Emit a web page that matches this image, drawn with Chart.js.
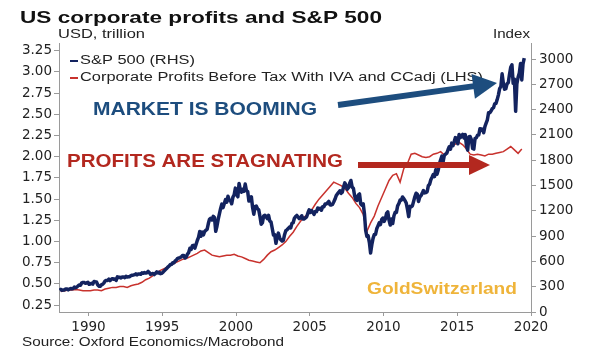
<!DOCTYPE html>
<html>
<head>
<meta charset="utf-8">
<script src="https://cdn.jsdelivr.net/npm/chart.js@4"></script>
<style>
  body { margin: 0; background: #fff; }
</style>
</head>
<body>
<canvas id="chart" width="595" height="353"></canvas>
<script>
// S&P 500 month-end level, Jan 1988 .. Jul 2019 (RHS)
const spxStart = 1988;
const spx = [
  257, 268, 259, 261, 262, 274, 272, 262, 272, 279, 274, 278,
  297, 289, 295, 310, 321, 318, 346, 351, 349, 340, 346, 353,
  329, 332, 340, 331, 361, 358, 356, 323, 306, 304, 322, 330,
  344, 367, 375, 375, 390, 371, 388, 395, 388, 392, 375, 417,
  409, 413, 404, 415, 415, 408, 424, 414, 418, 419, 431, 436,
  439, 443, 452, 440, 450, 451, 448, 464, 459, 468, 462, 466,
  482, 467, 446, 451, 457, 444, 458, 475, 463, 472, 454, 459,
  470, 487, 501, 515, 533, 545, 562, 562, 584, 582, 605, 616,
  636, 640, 646, 654, 669, 671, 640, 652, 687, 705, 757, 741,
  786, 791, 757, 801, 848, 885, 954, 899, 947, 915, 955, 970,
  980, 1049, 1102, 1112, 1091, 1134, 1121, 957, 1017, 1099, 1164, 1229,
  1280, 1238, 1286, 1335, 1302, 1373, 1329, 1320, 1283, 1363, 1389, 1469,
  1394, 1366, 1525, 1452, 1421, 1455, 1431, 1518, 1437, 1429, 1315, 1320,
  1366, 1240, 1160, 1249, 1256, 1224, 1211, 1134, 1041, 1060, 1139, 1148,
  1130, 1107, 1147, 1077, 1067, 990, 912, 916, 815, 886, 936, 880,
  856, 841, 848, 917, 964, 975, 990, 1008, 996, 1051, 1058, 1112,
  1131, 1145, 1126, 1107, 1121, 1141, 1102, 1104, 1115, 1130, 1174, 1212,
  1181, 1204, 1181, 1157, 1192, 1191, 1234, 1220, 1229, 1207, 1249, 1248,
  1280, 1281, 1295, 1311, 1270, 1270, 1277, 1304, 1336, 1378, 1401, 1418,
  1438, 1407, 1421, 1482, 1531, 1503, 1455, 1474, 1527, 1560, 1481, 1468,
  1379, 1331, 1323, 1386, 1400, 1280, 1267, 1283, 1166, 969, 896, 903,
  826, 700, 798, 873, 919, 919, 987, 1021, 1057, 1036, 1096, 1115,
  1074, 1104, 1169, 1187, 1089, 1031, 1102, 1049, 1141, 1183, 1181, 1258,
  1286, 1327, 1326, 1364, 1345, 1321, 1292, 1219, 1131, 1253, 1247, 1258,
  1312, 1366, 1408, 1398, 1310, 1362, 1379, 1407, 1441, 1412, 1416, 1426,
  1498, 1515, 1569, 1598, 1631, 1606, 1686, 1633, 1682, 1757, 1806, 1848,
  1783, 1859, 1872, 1884, 1924, 1960, 1931, 2003, 1972, 2018, 2068, 2059,
  1995, 2105, 2068, 2086, 2107, 2063, 2104, 1972, 1920, 2079, 2080, 2044,
  1940, 1932, 2060, 2065, 2097, 2099, 2174, 2171, 2168, 2126, 2199, 2239,
  2279, 2364, 2363, 2384, 2412, 2423, 2470, 2472, 2519, 2575, 2648, 2674,
  2824, 2714, 2641, 2648, 2705, 2718, 2816, 2902, 2930, 2712, 2760, 2380,
  2704, 2784, 2834, 2946, 2752, 2942, 3010
];

// Corporate profits before tax with IVA and CCadj, USD trillion, quarterly 1988Q1 .. 2019Q2 (LHS)
const profitStart = 1988;
const profits = [
  0.41, 0.42, 0.43, 0.43,
  0.435, 0.43, 0.42, 0.42,
  0.42, 0.43, 0.43, 0.42,
  0.44, 0.45, 0.46, 0.46,
  0.47, 0.47, 0.46, 0.48,
  0.49, 0.50, 0.52, 0.55,
  0.57, 0.60, 0.63, 0.66,
  0.68, 0.70, 0.73, 0.75,
  0.77, 0.79, 0.80, 0.82,
  0.84, 0.86, 0.89, 0.90,
  0.87, 0.84, 0.83, 0.82,
  0.83, 0.84, 0.84, 0.85,
  0.83, 0.82, 0.80, 0.78,
  0.77, 0.76, 0.75, 0.79,
  0.84, 0.88, 0.90, 0.93,
  0.96, 1.00, 1.06, 1.11,
  1.18, 1.24, 1.29, 1.32,
  1.37, 1.44, 1.50, 1.55,
  1.60, 1.65, 1.70, 1.68,
  1.66, 1.63, 1.57, 1.52,
  1.45, 1.40, 1.32, 1.12,
  1.22, 1.30, 1.42, 1.52,
  1.62, 1.72, 1.78, 1.80,
  1.70, 1.86, 1.92, 2.03,
  2.04, 2.02, 2.00, 1.99,
  2.00, 2.03, 2.04, 2.06,
  2.02, 2.08, 2.13, 2.15,
  2.17, 2.14, 2.09, 2.03,
  2.02, 2.03, 2.02, 2.01,
  2.03, 2.03, 2.04, 2.05,
  2.06, 2.09, 2.12, 2.08,
  2.04, 2.09
];

const xTicks = [1990, 1995, 2000, 2005, 2010, 2015, 2020];
const lhsTicks = [0.25, 0.5, 0.75, 1.0, 1.25, 1.5, 1.75, 2.0, 2.25, 2.5, 2.75, 3.0, 3.25];
const rhsTicks = [0, 300, 600, 900, 1200, 1500, 1800, 2100, 2400, 2700, 3000];

const spxLabel = "S&P 500 (RHS)";
const profitLabel = "Corporate Profits Before Tax With IVA and CCadj (LHS)";

const navy = "#13235f";
const red = "#c8322d";
const axisGrey = "#9a9a9a";
const tickFont = { family: "DejaVu Sans", size: 13.5 };

// text drawn with horizontal stretch to match the reference's wide lettering
function drawText(ctx, s, x, y, size, bold, color, width, align) {
  ctx.save();
  ctx.font = (bold ? "bold " : "") + size + 'px "Liberation Sans", Arial, sans-serif';
  ctx.fillStyle = color;
  ctx.textBaseline = "middle";
  ctx.textAlign = align || "left";
  const sx = width ? width / ctx.measureText(s).width : 1;
  ctx.translate(x, y);
  ctx.scale(sx, 1);
  ctx.fillText(s, 0, 0);
  ctx.restore();
}

function drawArrow(ctx, x1, y1, x2, y2, color, shaftW, headL, headW) {
  const ang = Math.atan2(y2 - y1, x2 - x1);
  const len = Math.hypot(x2 - x1, y2 - y1);
  ctx.save();
  ctx.translate(x1, y1);
  ctx.rotate(ang);
  ctx.fillStyle = color;
  ctx.fillRect(0, -shaftW / 2, len - headL + 1, shaftW);
  ctx.beginPath();
  ctx.moveTo(len, 0);
  ctx.lineTo(len - headL, -headW);
  ctx.lineTo(len - headL, headW);
  ctx.closePath();
  ctx.fill();
  ctx.restore();
}

const decorations = {
  id: "decorations",
  afterDraw(chart) {
    const ctx = chart.ctx;
    drawText(ctx, "US corporate profits and S&P 500", 20, 18, 17, true, "#111", 362);
    drawText(ctx, "USD, trillion", 58, 35, 12.5, false, "#222", 87);
    drawText(ctx, "Index", 530, 35, 12.5, false, "#222", 37, "right");

    // legend inside the plot
    const ds = chart.data.datasets;
    const rows = [[ds[0], 61, 115], [ds[1], 78, 403]];
    rows.forEach(([d, y, w]) => {
      ctx.fillStyle = d.borderColor;
      ctx.fillRect(70, y - 1, 8, 2);
      drawText(ctx, d.label, 80, y, 12.5, false, "#222", w);
    });

    drawText(ctx, "MARKET IS BOOMING", 93, 110, 18, true, "#1d4d7e", 224);
    drawArrow(ctx, 338, 105, 497, 83, "#1d4d7e", 6, 24, 12.5);
    drawText(ctx, "PROFITS ARE STAGNATING", 67, 162, 18, true, "#b3281f", 276);
    drawArrow(ctx, 358, 165, 490, 165, "#b3281f", 6, 21, 10);
    drawText(ctx, "GoldSwitzerland", 367, 290, 16, true, "#efb43a", 150);
    drawText(ctx, "Source: Oxford Economics/Macrobond", 22, 343, 12.5, false, "#222", 262);
  }
};

const spxPoints = spx.map((v, i) => ({ x: spxStart + (i + 0.5) / 12, y: v }));
const profitPoints = profits.map((v, i) => ({ x: profitStart + (i + 0.5) / 4, y: v }));

new Chart(document.getElementById("chart"), {
  type: "line",
  data: {
    datasets: [
      {
        label: spxLabel,
        data: spxPoints,
        yAxisID: "y2",
        borderColor: navy,
        borderWidth: 3.5,
        pointRadius: 0,
        borderJoinStyle: "round",
      },
      {
        label: profitLabel,
        data: profitPoints,
        yAxisID: "y",
        borderColor: red,
        borderWidth: 1.5,
        pointRadius: 0,
      },
    ],
  },
  options: {
    responsive: false,
    animation: false,
    layout: { padding: { top: 43, left: 0, right: 0, bottom: 0 } },
    plugins: {
      legend: { display: false },
      tooltip: { enabled: false },
    },
    scales: {
      x: {
        type: "linear",
        min: 1988,
        max: 2020,
        afterBuildTicks: (scale) => { scale.ticks = xTicks.map((v) => ({ value: v })); },
        afterFit: (scale) => { scale.height = 41; },
        grid: { drawOnChartArea: false, tickLength: 4, color: axisGrey },
        border: { color: axisGrey },
        ticks: {
          font: tickFont,
          color: "#222",
          padding: 3,
          maxRotation: 0,
          callback: (v) => String(v),
        },
      },
      y: {
        position: "left",
        min: 0.17,
        max: 3.34,
        afterBuildTicks: (scale) => { scale.ticks = lhsTicks.map((v) => ({ value: v })); },
        afterFit: (scale) => { scale.width = 59; },
        grid: { drawOnChartArea: false, tickLength: 5, color: axisGrey },
        border: { color: axisGrey },
        ticks: {
          font: tickFont,
          color: "#222",
          padding: 2,
          callback: (v) => v.toFixed(2),
        },
      },
      y2: {
        position: "right",
        min: 0,
        max: 3190,
        afterBuildTicks: (scale) => { scale.ticks = rhsTicks.map((v) => ({ value: v })); },
        afterFit: (scale) => { scale.width = 64; },
        grid: { drawOnChartArea: false, tickLength: 5, color: axisGrey },
        border: { color: axisGrey },
        ticks: {
          font: tickFont,
          color: "#222",
          padding: 3,
          callback: (v) => String(v),
        },
      },
    },
  },
  plugins: [decorations],
});
</script>
</body>
</html>
